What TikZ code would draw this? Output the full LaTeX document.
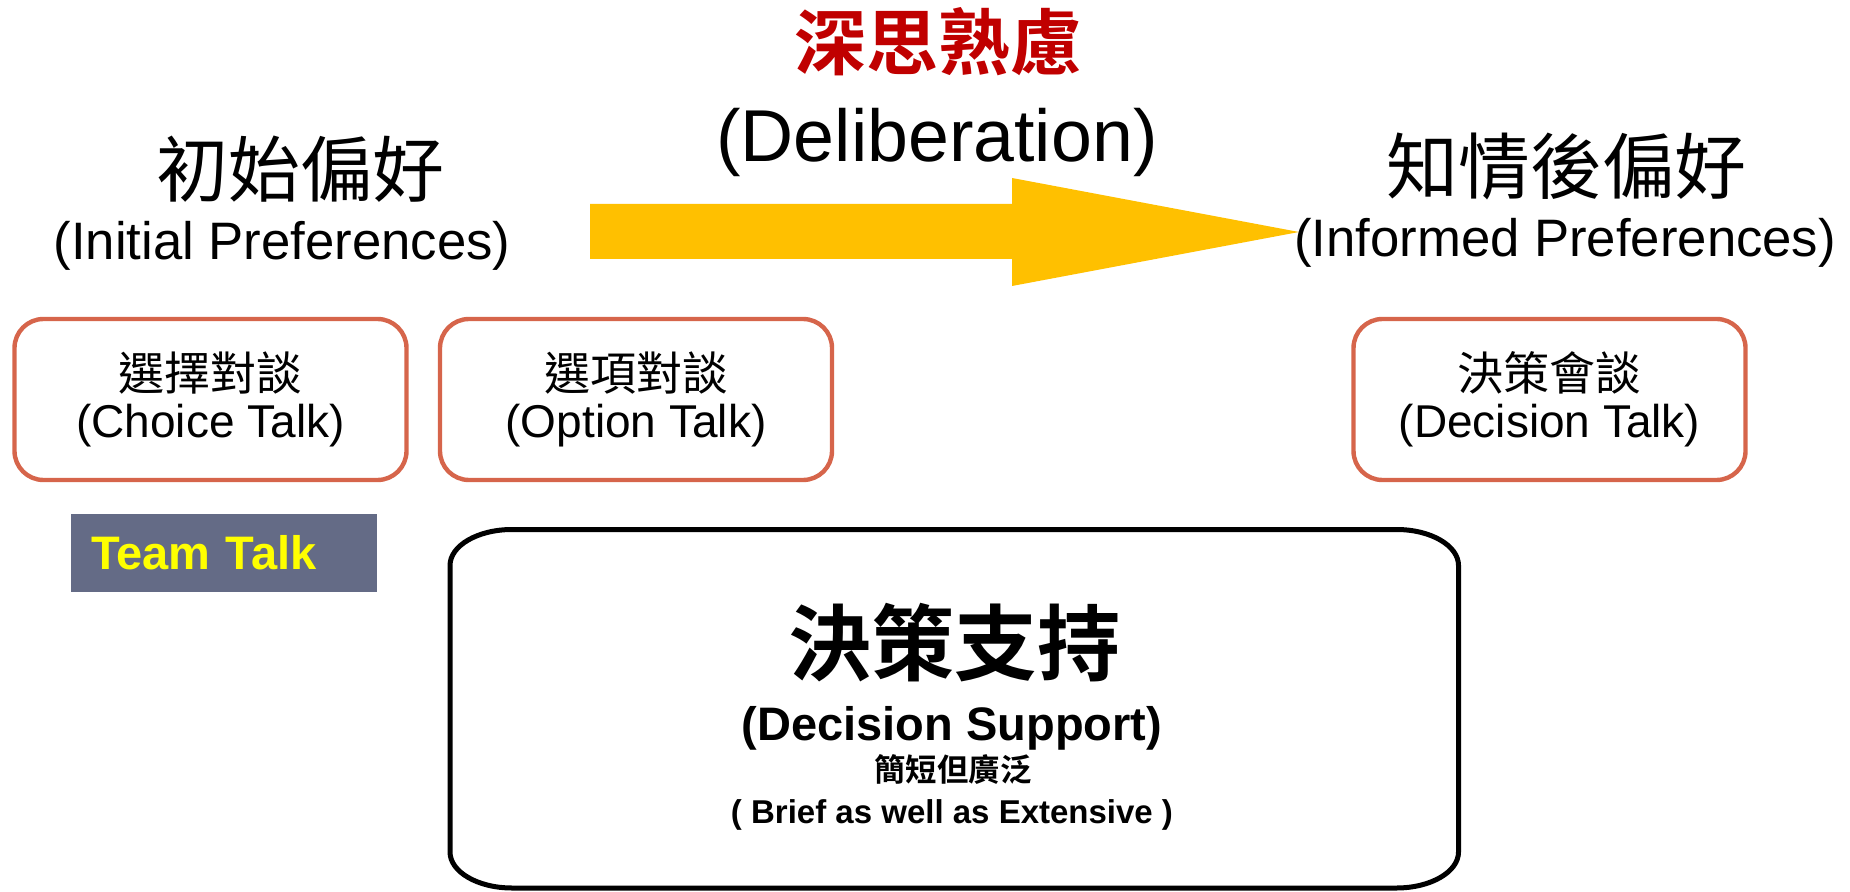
\documentclass[tikz,border=0pt]{standalone}
\usepackage{fontspec}
\setmainfont{Liberation Sans}
\newfontfamily\cjk{Noto Sans CJK TC}[BoldFont={Noto Sans CJK TC Bold}]

\definecolor{delibred}{HTML}{C00000}
\definecolor{arrowgold}{HTML}{FFC000}
\definecolor{talkline}{HTML}{D6654B}
\definecolor{teamslate}{HTML}{646B86}
\definecolor{teamyellow}{HTML}{FFFF00}

\begin{document}
\begin{tikzpicture}[x=0.5pt, y=0.5pt,
    cjkhead/.style={font=\cjk\fontsize{36}{36}\selectfont, anchor=base},
    enghead/.style={font=\fontsize{26.35}{26.35}\selectfont, anchor=base},
    talkbox/.style={draw=talkline, line width=2.2pt, rounded corners=14.5pt,
        minimum width=196pt, minimum height=80.5pt, inner sep=0pt,
        align=center, font=\fontsize{23}{23.5}\selectfont},
    teambox/.style={fill=teamslate, text=teamyellow,
        font=\bfseries\fontsize{23.5}{23.5}\selectfont, text width=133pt,
        align=left, inner xsep=10pt, inner ysep=0pt, minimum height=39pt},
    supportline/.style={draw=black, line width=2.5pt}]
    \useasboundingbox (0,0) rectangle (1850,-892);
    % headings
    \node[font=\cjk\bfseries\fontsize{36}{36}\selectfont, text=delibred, anchor=base] (delibcn) at (938,-70) {深思熟慮};
    \node[font=\fontsize{36.75}{36.75}\selectfont, anchor=base] (delibeng) at (937,-162) {(Deliberation)};
    \node[cjkhead] (initcn) at (300,-197) {初始偏好};
    \node[enghead] (initeng) at (282,-260) {(Initial Preferences)};
    \node[cjkhead] (informcn) at (1566,-194) {知情後偏好};
    \node[enghead] (informeng) at (1565,-257) {(Informed Preferences)};
    % big arrow
    \fill[arrowgold] (590,-204) -- (1012,-204) -- (1012,-178) -- (1299,-232)
        -- (1012,-286) -- (1012,-259) -- (590,-259) -- cycle;
    % talk boxes
    \node[talkbox] (choice) at (210.5,-399.5) {{\cjk 選擇對談}\\(Choice Talk)};
    \node[talkbox] (option) at (636,-399.5) {{\cjk 選項對談}\\(Option Talk)};
    \node[talkbox] (decision) at (1549.5,-399.5) {{\cjk 決策會談}\\(Decision Talk)};
    \node[teambox] (team) at (224,-553) {Team Talk};
    % decision support
    \draw[supportline] (512,-529.5) -- (1396.5,-529.5)
        arc[start angle=90, end angle=0, x radius=62, y radius=36] -- (1458.5,-852)
        arc[start angle=0, end angle=-90, x radius=62, y radius=36] -- (512,-888)
        arc[start angle=270, end angle=180, x radius=62, y radius=36] -- (450,-565.5)
        arc[start angle=180, end angle=90, x radius=62, y radius=36] -- cycle;
    \node[font=\cjk\bfseries\fontsize{41.5}{41.5}\selectfont, anchor=base] (supportcn) at (954,-674) {決策支持};
    \node[font=\bfseries\fontsize{23.5}{23.5}\selectfont, anchor=base] (supporteng) at (952,-740) {(Decision Support)};
    \node[font=\cjk\bfseries\fontsize{15.7}{15.7}\selectfont, anchor=base] (briefcn) at (953,-781) {簡短但廣泛};
    \node[font=\bfseries\fontsize{16.5}{16.5}\selectfont, anchor=base] (briefeng) at (952,-823) {( Brief as well as Extensive )};
\end{tikzpicture}
\end{document}
